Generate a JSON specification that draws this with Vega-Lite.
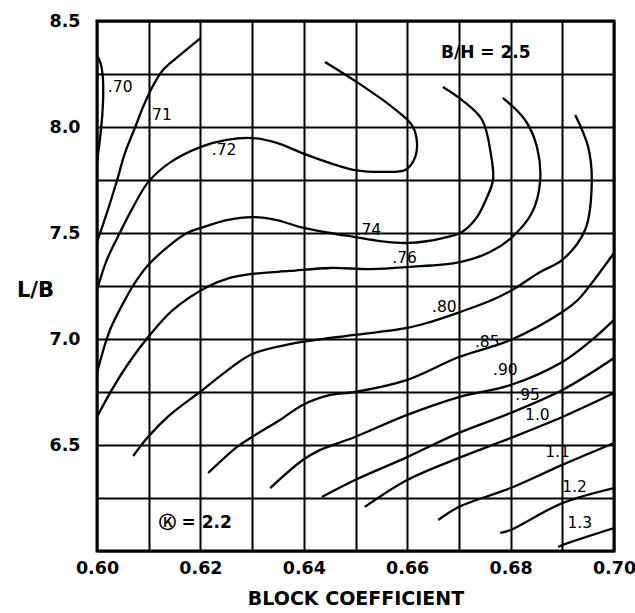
{
  "$schema": "https://vega.github.io/schema/vega-lite/v6.json",
  "width": 517,
  "height": 530,
  "autosize": {"type": "none"},
  "padding": {"left": 97, "top": 21, "right": 21, "bottom": 62},
  "background": "white",
  "config": {
    "view": {"stroke": "black", "strokeWidth": 3},
    "font": "DejaVu Sans"
  },
  "datasets": {
    "curves": [
      {"c": ".70", "i": 0, "x": 0.6000, "y": 8.34},
      {"c": ".70", "i": 1, "x": 0.6007, "y": 8.30},
      {"c": ".70", "i": 2, "x": 0.6011, "y": 8.245},
      {"c": ".70", "i": 3, "x": 0.6012, "y": 8.15},
      {"c": ".70", "i": 4, "x": 0.6010, "y": 8.05},
      {"c": ".70", "i": 5, "x": 0.6006, "y": 7.95},
      {"c": ".70", "i": 6, "x": 0.6002, "y": 7.87},
      {"c": ".70", "i": 7, "x": 0.6000, "y": 7.83},

      {"c": ".71", "i": 0, "x": 0.6201, "y": 8.42},
      {"c": ".71", "i": 1, "x": 0.6161, "y": 8.34},
      {"c": ".71", "i": 2, "x": 0.6128, "y": 8.27},
      {"c": ".71", "i": 3, "x": 0.6106, "y": 8.184},
      {"c": ".71", "i": 4, "x": 0.6089, "y": 8.094},
      {"c": ".71", "i": 5, "x": 0.6074, "y": 8.0},
      {"c": ".71", "i": 6, "x": 0.6054, "y": 7.877},
      {"c": ".71", "i": 7, "x": 0.6039, "y": 7.75},
      {"c": ".71", "i": 8, "x": 0.6019, "y": 7.594},
      {"c": ".71", "i": 9, "x": 0.6000, "y": 7.458},

      {"c": ".72", "i": 0, "x": 0.6000, "y": 7.231},
      {"c": ".72", "i": 1, "x": 0.6019, "y": 7.373},
      {"c": ".72", "i": 2, "x": 0.6044, "y": 7.5},
      {"c": ".72", "i": 3, "x": 0.6070, "y": 7.623},
      {"c": ".72", "i": 4, "x": 0.6099, "y": 7.74},
      {"c": ".72", "i": 5, "x": 0.6141, "y": 7.832},
      {"c": ".72", "i": 7, "x": 0.6201, "y": 7.906},
      {"c": ".72", "i": 8, "x": 0.6251, "y": 7.939},
      {"c": ".72", "i": 9, "x": 0.6300, "y": 7.948},
      {"c": ".72", "i": 10, "x": 0.6348, "y": 7.925},
      {"c": ".72", "i": 11, "x": 0.6397, "y": 7.877},
      {"c": ".72", "i": 12, "x": 0.6451, "y": 7.83},
      {"c": ".72", "i": 13, "x": 0.6499, "y": 7.797},
      {"c": ".72", "i": 14, "x": 0.6557, "y": 7.788},
      {"c": ".72", "i": 15, "x": 0.6596, "y": 7.797},
      {"c": ".72", "i": 16, "x": 0.6613, "y": 7.844},
      {"c": ".72", "i": 17, "x": 0.6619, "y": 7.925},
      {"c": ".72", "i": 18, "x": 0.6609, "y": 8.009},
      {"c": ".72", "i": 19, "x": 0.6571, "y": 8.094},
      {"c": ".72", "i": 20, "x": 0.6505, "y": 8.208},
      {"c": ".72", "i": 21, "x": 0.6441, "y": 8.307},

      {"c": ".74", "i": 0, "x": 0.6000, "y": 6.84},
      {"c": ".74", "i": 1, "x": 0.6025, "y": 7.042},
      {"c": ".74", "i": 2, "x": 0.6054, "y": 7.184},
      {"c": ".74", "i": 3, "x": 0.6068, "y": 7.245},
      {"c": ".74", "i": 4, "x": 0.6099, "y": 7.349},
      {"c": ".74", "i": 5, "x": 0.6141, "y": 7.443},
      {"c": ".74", "i": 6, "x": 0.6174, "y": 7.5},
      {"c": ".74", "i": 7, "x": 0.6201, "y": 7.524},
      {"c": ".74", "i": 8, "x": 0.6251, "y": 7.561},
      {"c": ".74", "i": 9, "x": 0.6300, "y": 7.575},
      {"c": ".74", "i": 10, "x": 0.6348, "y": 7.561},
      {"c": ".74", "i": 11, "x": 0.6393, "y": 7.528},
      {"c": ".74", "i": 12, "x": 0.6451, "y": 7.5},
      {"c": ".74", "i": 13, "x": 0.6499, "y": 7.481},
      {"c": ".74", "i": 14, "x": 0.6547, "y": 7.462},
      {"c": ".74", "i": 15, "x": 0.6602, "y": 7.453},
      {"c": ".74", "i": 16, "x": 0.6669, "y": 7.476},
      {"c": ".74", "i": 17, "x": 0.6706, "y": 7.505},
      {"c": ".74", "i": 18, "x": 0.6735, "y": 7.575},
      {"c": ".74", "i": 19, "x": 0.6752, "y": 7.656},
      {"c": ".74", "i": 20, "x": 0.6766, "y": 7.75},
      {"c": ".74", "i": 21, "x": 0.6762, "y": 7.87},
      {"c": ".74", "i": 22, "x": 0.6745, "y": 8.033},
      {"c": ".74", "i": 23, "x": 0.6706, "y": 8.127},
      {"c": ".74", "i": 24, "x": 0.6669, "y": 8.189},

      {"c": ".76", "i": 0, "x": 0.6000, "y": 6.632},
      {"c": ".76", "i": 1, "x": 0.6025, "y": 6.745},
      {"c": ".76", "i": 2, "x": 0.6060, "y": 6.882},
      {"c": ".76", "i": 3, "x": 0.6099, "y": 7.009},
      {"c": ".76", "i": 4, "x": 0.6147, "y": 7.137},
      {"c": ".76", "i": 5, "x": 0.6213, "y": 7.245},
      {"c": ".76", "i": 6, "x": 0.6257, "y": 7.288},
      {"c": ".76", "i": 7, "x": 0.6300, "y": 7.307},
      {"c": ".76", "i": 8, "x": 0.6373, "y": 7.321},
      {"c": ".76", "i": 9, "x": 0.6451, "y": 7.335},
      {"c": ".76", "i": 10, "x": 0.6528, "y": 7.33},
      {"c": ".76", "i": 11, "x": 0.6602, "y": 7.34},
      {"c": ".76", "i": 12, "x": 0.6702, "y": 7.363},
      {"c": ".76", "i": 13, "x": 0.6760, "y": 7.41},
      {"c": ".76", "i": 14, "x": 0.6803, "y": 7.481},
      {"c": ".76", "i": 15, "x": 0.6841, "y": 7.594},
      {"c": ".76", "i": 16, "x": 0.6857, "y": 7.74},
      {"c": ".76", "i": 17, "x": 0.6851, "y": 7.906},
      {"c": ".76", "i": 18, "x": 0.6828, "y": 8.033},
      {"c": ".76", "i": 19, "x": 0.6785, "y": 8.137},

      {"c": ".80", "i": 0, "x": 0.6070, "y": 6.448},
      {"c": ".80", "i": 1, "x": 0.6097, "y": 6.533},
      {"c": ".80", "i": 2, "x": 0.6141, "y": 6.642},
      {"c": ".80", "i": 3, "x": 0.6199, "y": 6.75},
      {"c": ".80", "i": 4, "x": 0.6248, "y": 6.844},
      {"c": ".80", "i": 5, "x": 0.6300, "y": 6.929},
      {"c": ".80", "i": 6, "x": 0.6373, "y": 6.976},
      {"c": ".80", "i": 7, "x": 0.6451, "y": 7.005},
      {"c": ".80", "i": 8, "x": 0.6499, "y": 7.019},
      {"c": ".80", "i": 9, "x": 0.6600, "y": 7.052},
      {"c": ".80", "i": 10, "x": 0.6644, "y": 7.08},
      {"c": ".80", "i": 11, "x": 0.6702, "y": 7.127},
      {"c": ".80", "i": 12, "x": 0.6764, "y": 7.184},
      {"c": ".80", "i": 13, "x": 0.6803, "y": 7.231},
      {"c": ".80", "i": 14, "x": 0.6857, "y": 7.316},
      {"c": ".80", "i": 15, "x": 0.6900, "y": 7.373},
      {"c": ".80", "i": 16, "x": 0.6944, "y": 7.514},
      {"c": ".80", "i": 17, "x": 0.6957, "y": 7.74},
      {"c": ".80", "i": 18, "x": 0.6950, "y": 7.906},
      {"c": ".80", "i": 19, "x": 0.6925, "y": 8.057},

      {"c": ".85", "i": 0, "x": 0.6215, "y": 6.368},
      {"c": ".85", "i": 1, "x": 0.6271, "y": 6.491},
      {"c": ".85", "i": 2, "x": 0.6300, "y": 6.538},
      {"c": ".85", "i": 3, "x": 0.6354, "y": 6.618},
      {"c": ".85", "i": 4, "x": 0.6398, "y": 6.689},
      {"c": ".85", "i": 5, "x": 0.6451, "y": 6.736},
      {"c": ".85", "i": 6, "x": 0.6499, "y": 6.75},
      {"c": ".85", "i": 7, "x": 0.6600, "y": 6.807},
      {"c": ".85", "i": 8, "x": 0.6700, "y": 6.915},
      {"c": ".85", "i": 9, "x": 0.6800, "y": 6.995},
      {"c": ".85", "i": 10, "x": 0.6900, "y": 7.127},
      {"c": ".85", "i": 11, "x": 0.6930, "y": 7.184},
      {"c": ".85", "i": 12, "x": 0.6957, "y": 7.264},
      {"c": ".85", "i": 13, "x": 0.7000, "y": 7.406},

      {"c": ".90", "i": 0, "x": 0.6335, "y": 6.297},
      {"c": ".90", "i": 1, "x": 0.6398, "y": 6.429},
      {"c": ".90", "i": 2, "x": 0.6431, "y": 6.476},
      {"c": ".90", "i": 3, "x": 0.6499, "y": 6.538},
      {"c": ".90", "i": 4, "x": 0.6600, "y": 6.642},
      {"c": ".90", "i": 5, "x": 0.6700, "y": 6.726},
      {"c": ".90", "i": 6, "x": 0.6800, "y": 6.783},
      {"c": ".90", "i": 7, "x": 0.6900, "y": 6.892},
      {"c": ".90", "i": 8, "x": 0.6957, "y": 6.995},
      {"c": ".90", "i": 9, "x": 0.7000, "y": 7.09},

      {"c": ".95", "i": 0, "x": 0.6435, "y": 6.255},
      {"c": ".95", "i": 1, "x": 0.6499, "y": 6.335},
      {"c": ".95", "i": 2, "x": 0.6600, "y": 6.443},
      {"c": ".95", "i": 3, "x": 0.6700, "y": 6.557},
      {"c": ".95", "i": 4, "x": 0.6800, "y": 6.651},
      {"c": ".95", "i": 5, "x": 0.6900, "y": 6.759},
      {"c": ".95", "i": 6, "x": 0.7000, "y": 6.91},

      {"c": "1.0", "i": 0, "x": 0.6518, "y": 6.208},
      {"c": "1.0", "i": 1, "x": 0.6600, "y": 6.335},
      {"c": "1.0", "i": 2, "x": 0.6700, "y": 6.439},
      {"c": "1.0", "i": 3, "x": 0.6800, "y": 6.533},
      {"c": "1.0", "i": 4, "x": 0.6900, "y": 6.632},
      {"c": "1.0", "i": 5, "x": 0.7000, "y": 6.745},

      {"c": "1.1", "i": 0, "x": 0.6660, "y": 6.146},
      {"c": "1.1", "i": 1, "x": 0.6700, "y": 6.208},
      {"c": "1.1", "i": 2, "x": 0.6800, "y": 6.297},
      {"c": "1.1", "i": 3, "x": 0.6900, "y": 6.406},
      {"c": "1.1", "i": 4, "x": 0.7000, "y": 6.509},

      {"c": "1.2", "i": 0, "x": 0.6780, "y": 6.085},
      {"c": "1.2", "i": 1, "x": 0.6800, "y": 6.099},
      {"c": "1.2", "i": 2, "x": 0.6900, "y": 6.226},
      {"c": "1.2", "i": 3, "x": 0.7000, "y": 6.297},

      {"c": "1.3", "i": 0, "x": 0.6892, "y": 6.019},
      {"c": "1.3", "i": 1, "x": 0.6900, "y": 6.028},
      {"c": "1.3", "i": 2, "x": 0.7000, "y": 6.108}
    ],
    "labels": [
      {"t": ".70", "x": 0.6021, "y": 8.19},
      {"t": ".71", "x": 0.6097, "y": 8.057},
      {"t": ".72", "x": 0.6222, "y": 7.892},
      {"t": ".74", "x": 0.6502, "y": 7.514},
      {"t": ".76", "x": 0.6571, "y": 7.382},
      {"t": ".80", "x": 0.6648, "y": 7.151},
      {"t": ".85", "x": 0.6731, "y": 6.986},
      {"t": ".90", "x": 0.6766, "y": 6.854},
      {"t": ".95", "x": 0.6809, "y": 6.736},
      {"t": "1.0", "x": 0.6828, "y": 6.642},
      {"t": "1.1", "x": 0.6867, "y": 6.467},
      {"t": "1.2", "x": 0.6900, "y": 6.302},
      {"t": "1.3", "x": 0.6910, "y": 6.132}
    ],
    "notes": [
      {"t": "B/H = 2.5", "x": 0.6752, "y": 8.349},
      {"t": "Ⓚ = 2.2", "x": 0.6190, "y": 6.132}
    ]
  },
  "layer": [
    {
      "data": {"name": "curves"},
      "mark": {"type": "line", "color": "black", "strokeWidth": 2.3, "interpolate": "catmull-rom", "clip": true},
      "encoding": {
        "x": {
          "field": "x", "type": "quantitative",
          "scale": {"domain": [0.6, 0.7], "nice": false, "zero": false},
          "axis": {
            "values": [0.6, 0.61, 0.62, 0.63, 0.64, 0.65, 0.66, 0.67, 0.68, 0.69, 0.7],
            "labelExpr": "round(datum.value*100) % 2 == 0 ? format(datum.value, '.2f') : ''",
            "grid": true, "gridColor": "black", "gridWidth": 2, "gridOpacity": 1,
            "ticks": false, "domain": false,
            "labelFont": "DejaVu Sans", "labelFontWeight": "bold", "labelFontSize": 17.5,
            "labelColor": "black", "labelPadding": 8, "labelFlush": false,
            "title": "BLOCK  COEFFICIENT",
            "titleFont": "DejaVu Sans", "titleFontWeight": "bold", "titleFontSize": 19,
            "titleColor": "black", "titleBaseline": "middle", "titleY": 47
          }
        },
        "y": {
          "field": "y", "type": "quantitative",
          "scale": {"domain": [6.0, 8.5], "nice": false, "zero": false},
          "axis": {
            "values": [6.0, 6.25, 6.5, 6.75, 7.0, 7.25, 7.5, 7.75, 8.0, 8.25, 8.5],
            "labelExpr": "datum.value >= 6.5 && round(datum.value*4) % 2 == 0 ? format(datum.value, '.1f') : ''",
            "grid": true, "gridColor": "black", "gridWidth": 2, "gridOpacity": 1,
            "ticks": false, "domain": false,
            "labelFont": "DejaVu Sans", "labelFontWeight": "bold", "labelFontSize": 17.5,
            "labelColor": "black", "labelPadding": 17, "labelFlush": false,
            "title": "L/B",
            "titleFont": "DejaVu Sans", "titleFontWeight": "bold", "titleFontSize": 21,
            "titleColor": "black", "titleAngle": 0, "titleAlign": "center",
            "titleBaseline": "middle", "titleX": -62, "titleY": 269
          }
        },
        "detail": {"field": "c"},
        "order": {"field": "i", "type": "quantitative"}
      }
    },
    {
      "data": {"name": "labels"},
      "mark": {"type": "text", "align": "left", "baseline": "middle", "font": "DejaVu Sans", "fontSize": 15.5, "color": "black"},
      "encoding": {
        "x": {"field": "x", "type": "quantitative"},
        "y": {"field": "y", "type": "quantitative"},
        "text": {"field": "t"}
      }
    },
    {
      "data": {"name": "notes"},
      "mark": {"type": "text", "align": "center", "baseline": "middle", "font": "DejaVu Sans", "fontWeight": "bold", "fontSize": 17, "color": "black"},
      "encoding": {
        "x": {"field": "x", "type": "quantitative"},
        "y": {"field": "y", "type": "quantitative"},
        "text": {"field": "t"}
      }
    }
  ]
}
